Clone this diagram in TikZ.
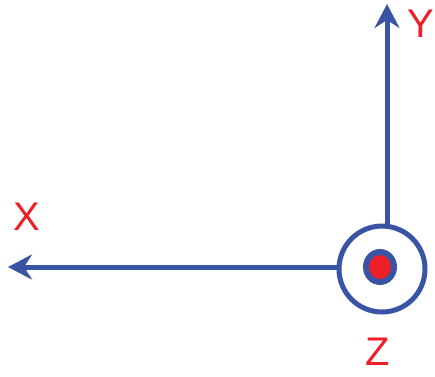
\documentclass[tikz,border=0pt]{standalone}
\usepackage{fontspec}
\setmainfont{Liberation Sans}
\usetikzlibrary{arrows.meta}
\definecolor{axblue}{RGB}{58,84,165}
\definecolor{lblred}{RGB}{237,32,39}
\tikzset{
  axis/.style={draw=axblue, line width=5pt, -{Stealth[length=24pt,width=25pt,inset=8pt]}},
  lbl/.style={text=lblred, font=\fontsize{40}{40}\selectfont, inner sep=0pt},
  ring/.style={circle, draw=axblue, line width=5pt, minimum size=86pt, inner sep=0pt, outer sep=0pt}
}
\begin{document}
\begin{tikzpicture}[x=1pt,y=-1pt]
\useasboundingbox (0,0) rectangle (435,376);
\node[ring] (c) at (382,269) {};
\draw[draw=axblue, fill=lblred, line width=6pt] (380,267) ellipse [x radius=14, y radius=15];
\coordinate (xtip) at (8,267);
\coordinate (ytip) at (387,4);
\draw[axis] (c.west |- xtip) -- (xtip);
\draw[axis] (ytip |- c.north) ++(0,3) -- (ytip);
\node[lbl] (xl) at (27,217) {X};
\node[lbl] (yl) at (421,24) {Y};
\node[lbl] (zl) at (378,352) {Z};
\end{tikzpicture}
\end{document}
